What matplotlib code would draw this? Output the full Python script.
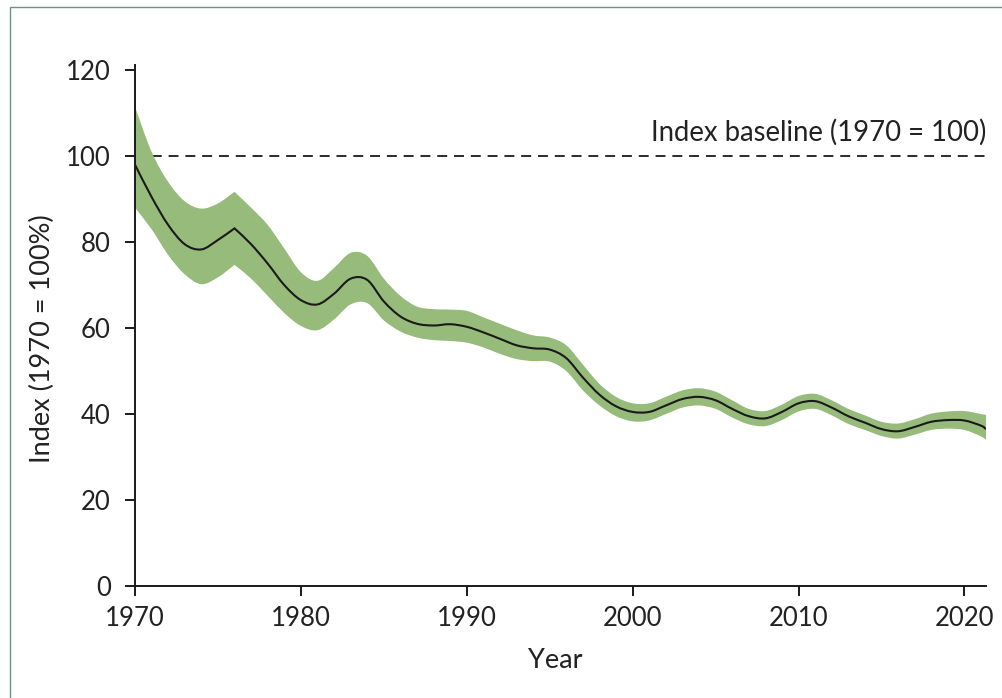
import matplotlib
matplotlib.use("Agg")
import matplotlib.pyplot as plt
import numpy as np
from matplotlib.path import Path
from matplotlib.patches import PathPatch, Rectangle

years = [1970, 1971, 1972, 1973, 1974, 1975, 1976, 1977, 1978, 1979,
         1980, 1981, 1982, 1983, 1984, 1985, 1986, 1987, 1988, 1989,
         1990, 1991, 1992, 1993, 1994, 1995, 1996, 1997, 1998, 1999,
         2000, 2001, 2002, 2003, 2004, 2005, 2006, 2007, 2008, 2009,
         2010, 2011, 2012, 2013, 2014, 2015, 2016, 2017, 2018, 2019,
         2020, 2021, 2021.3]
index_mid = [98, 90.5, 84, 79.5, 78.3, 80.5, 83.2, 79.5, 75, 70,
             66.5, 65.5, 68, 71.5, 71.2, 66.2, 62.7, 61, 60.6, 60.9,
             60.3, 59, 57.5, 56, 55.3, 55, 53, 48.5, 44.5, 41.8,
             40.5, 40.5, 42, 43.5, 44, 43.2, 41.2, 39.5, 39, 40.5,
             42.5, 43, 41.5, 39.5, 38, 36.5, 36.0, 37, 38.2, 38.6,
             38.5, 37.3, 36.5]
index_upper = [111.5, 101, 94, 89.5, 87.8, 89, 91.7, 88, 84, 78.5,
               73, 71, 74, 77.5, 76.8, 71.5, 67.5, 65, 64.4, 64.3,
               64, 62.5, 61, 59.5, 58.3, 57.8, 56, 51.5, 47, 44,
               42.5, 42.5, 44, 45.5, 46, 45.2, 43.2, 41.2, 40.7, 42.2,
               44.2, 44.7, 43.2, 41.2, 39.7, 38.2, 37.8, 38.8, 40.1, 40.6,
               40.7, 40, 39.8]
index_lower = [88, 83, 77, 72.5, 70.2, 71.8, 74.7, 71.5, 67.5, 63.5,
               60.5, 59.5, 62, 65.5, 65.8, 61.8, 59.2, 57.8, 57.2, 57.0,
               56.6, 55.5, 54, 52.8, 52.3, 52.2, 50, 45.5, 42, 39.5,
               38.3, 38.5, 40, 41.5, 42, 41.2, 39.2, 37.6, 37.2, 38.6,
               40.6, 41.2, 39.7, 37.7, 36.3, 34.9, 34.3, 35.2, 36.3, 36.6,
               36.3, 34.8, 34.0]
corner_years = [1976]
baseline_value = 100
xticks = [1970, 1980, 1990, 2000, 2010, 2020]
yticks = [0, 20, 40, 60, 80, 100, 120]
baseline_label = "Index baseline (1970 = 100)"
xlabel = "Year"
ylabel = "Index (1970 = 100%)"

FONT = "Lato"
GREEN = "#97bb7a"
INK = "#222222"


def smooth_segments(x, y):
    """Catmull-Rom curve through the given points, as cubic Bezier vertices."""
    x = np.asarray(x, float)
    y = np.asarray(y, float)
    pts = np.column_stack([x, y])
    n = len(pts)
    verts = [pts[0]]
    codes = [Path.MOVETO]
    for i in range(n - 1):
        p0 = pts[i - 1] if i > 0 else pts[i]
        p1 = pts[i]
        p2 = pts[i + 1]
        p3 = pts[i + 2] if i + 2 < n else pts[i + 1]
        c1 = p1 + (p2 - p0) / 6.0
        c2 = p2 - (p3 - p1) / 6.0
        if p1[0] in corner_years:
            c1 = p1 + (p2 - p1) / 3.0
        if p2[0] in corner_years:
            c2 = p2 - (p2 - p1) / 3.0
        verts += [c1, c2, p2]
        codes += [Path.CURVE4] * 3
    return verts, codes


fig = plt.figure(figsize=(10.02, 6.98), dpi=100)
ax = fig.add_axes([135 / 1002, 1 - 586 / 698, (986 - 135) / 1002, (586 - 65) / 698])

# band
uv, uc = smooth_segments(years, index_upper)
lv, lc = smooth_segments(years[::-1], index_lower[::-1])
band_verts = uv + [lv[0]] + lv[1:] + [uv[0]]
band_codes = uc + [Path.LINETO] + lc[1:] + [Path.CLOSEPOLY]
ax.add_patch(PathPatch(Path(band_verts, band_codes), facecolor=GREEN,
                       edgecolor="none", zorder=2))

# central line
mv, mc = smooth_segments(years, index_mid)
ax.add_patch(PathPatch(Path(mv, mc), facecolor="none", edgecolor="#1a1a1a",
                       lw=1.5, zorder=3, capstyle="butt"))

# baseline
ax.axhline(baseline_value, color="#1a1a1a", lw=1.3, ls=(0, (5.5, 3.8)), zorder=1)
ax.text(years[-1], 103.6, baseline_label, ha="right", va="baseline",
        fontsize=19.8, family=FONT, color=INK)

ax.set_xlim(1970, years[-1])
ax.set_ylim(0, 121.2)
ax.set_xticks(xticks)
ax.set_yticks(yticks)
for s in ["top", "right"]:
    ax.spines[s].set_visible(False)
for s in ["left", "bottom"]:
    ax.spines[s].set_linewidth(1.4)
    ax.spines[s].set_color("#1a1a1a")
ax.tick_params(axis="both", length=7.5, width=1.4, color="#1a1a1a",
               labelsize=18.5, labelcolor=INK)
ax.tick_params(axis="y", pad=10)
ax.tick_params(axis="x", pad=7)
for lab in ax.get_xticklabels() + ax.get_yticklabels():
    lab.set_family(FONT)

fig.text(555 / 1002, 1 - 660 / 698, xlabel, ha="center", va="center",
         fontsize=19.5, family=FONT, color=INK)
fig.text(42 / 1002, 1 - 339 / 698, ylabel, ha="center", va="center", rotation=90,
         fontsize=19.5, family=FONT, color=INK)

# figure frame (green, partly cropped at right/bottom)
fig.patches.append(Rectangle((10 / 1002, -0.1), 1.2, 1.1 - 7.5 / 698,
                             transform=fig.transFigure, fill=False,
                             edgecolor="#5f9a7a", lw=1.0))

fig.savefig("out.png", dpi=100)
